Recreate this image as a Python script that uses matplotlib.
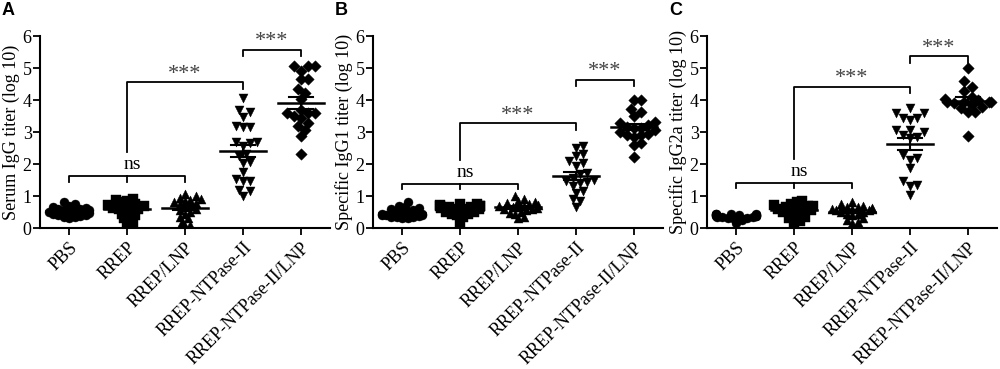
import numpy as np
import matplotlib
matplotlib.use('Agg')
import matplotlib.pyplot as plt

plt.rcParams['font.family'] = ['Liberation Serif', 'DejaVu Serif']

groups = ['PBS', 'RREP', 'RREP/LNP', 'RREP-NTPase-II', 'RREP-NTPase-II/LNP']
markers = ['o', 's', '^', 'v', 'D']

# panel A: serum IgG
pbs_a = [0.30, 0.35, 0.38, 0.42, 0.45, 0.48, 0.50, 0.52, 0.55, 0.58, 0.60, 0.62, 0.65, 0.70, 0.75, 0.80, 0.40, 0.55, 0.47, 0.33]
rrep_a = [0.15, 0.20, 0.30, 0.35, 0.45, 0.50, 0.55, 0.60, 0.62, 0.65, 0.70, 0.75, 0.80, 0.85, 0.88, 0.90, 0.40, 0.58, 0.68, 0.72]
lnp_a = [0.05, 0.10, 0.20, 0.30, 0.35, 0.45, 0.55, 0.60, 0.70, 0.75, 0.80, 0.85, 0.90, 0.95, 1.00, 1.05, 0.65, 0.50, 0.88, 0.78]
nt_a = [4.07, 3.63, 3.48, 3.68, 3.19, 3.16, 3.17, 2.70, 2.65, 2.69, 2.56, 2.25, 2.30, 2.04, 2.07, 1.75, 1.52, 1.47, 1.47, 1.16, 1.19, 1.00]
ntl_a = [5.06, 5.06, 5.06, 4.90, 4.65, 4.65, 4.36, 4.23, 4.02, 3.60, 3.60, 3.60, 3.29, 3.43, 3.19, 3.08, 2.88, 2.30, 3.70, 3.50]

# panel B: IgG1
pbs_b = [0.30, 0.32, 0.35, 0.38, 0.40, 0.42, 0.45, 0.48, 0.50, 0.52, 0.55, 0.60, 0.65, 0.70, 0.80, 0.35, 0.45, 0.40, 0.62, 0.33]
rrep_b = [0.18, 0.35, 0.40, 0.45, 0.50, 0.55, 0.60, 0.62, 0.65, 0.68, 0.70, 0.72, 0.75, 0.75, 0.60, 0.50, 0.58, 0.66, 0.45, 0.70]
lnp_b = [0.30, 0.35, 0.45, 0.50, 0.55, 0.60, 0.62, 0.65, 0.68, 0.70, 0.75, 0.80, 0.85, 0.90, 1.00, 0.58, 0.72, 0.66, 0.48, 0.78]
nt_b = [2.56, 2.51, 2.30, 2.25, 2.11, 2.04, 1.94, 1.73, 1.68, 1.57, 1.47, 1.16, 1.11, 0.90, 0.85, 0.65, 1.50, 1.45, 1.40, 1.30]
ntl_b = [3.99, 3.99, 3.63, 3.71, 3.51, 3.29, 3.32, 3.22, 3.17, 3.14, 3.07, 3.12, 2.91, 3.01, 2.86, 2.60, 2.65, 2.21, 2.90, 2.95]

# panel C: IgG2a
pbs_c = [0.15, 0.25, 0.30, 0.32, 0.35, 0.38, 0.40, 0.42, 0.45, 0.45, 0.40, 0.38, 0.35, 0.42, 0.44, 0.30, 0.36, 0.40, 0.43, 0.39]
rrep_c = [0.20, 0.22, 0.30, 0.35, 0.40, 0.50, 0.55, 0.60, 0.65, 0.70, 0.72, 0.75, 0.80, 0.85, 0.60, 0.50, 0.45, 0.65, 0.70, 0.55]
lnp_c = [0.15, 0.20, 0.25, 0.30, 0.40, 0.45, 0.50, 0.55, 0.60, 0.62, 0.65, 0.70, 0.75, 0.80, 0.55, 0.60, 0.50, 0.65, 0.58, 0.45]
nt_c = [3.74, 3.59, 3.59, 3.45, 3.43, 3.38, 3.07, 3.07, 2.81, 2.86, 2.29, 2.18, 2.13, 1.87, 1.46, 1.35, 1.33, 1.04, 2.90, 3.00]
ntl_c = [5.02, 4.60, 4.42, 4.28, 4.10, 3.95, 3.95, 3.90, 3.95, 3.95, 3.74, 3.64, 3.64, 2.88, 4.05, 3.85, 3.80, 4.00]

ylabels = ['Serum IgG titer (log 10)', 'Specific IgG1 titer (log 10)', 'Specific IgG2a titer (log 10)']
letters = ['A', 'B', 'C']
# bracket heights: ns line, first *** line, second *** line
brackets = [
    (1.63, 4.56, 5.58),
    (1.39, 3.27, 4.64),
    (1.42, 4.42, 5.37),
]
panels = [
    [pbs_a, rrep_a, lnp_a, nt_a, ntl_a],
    [pbs_b, rrep_b, lnp_b, nt_b, ntl_b],
    [pbs_c, rrep_c, lnp_c, nt_c, ntl_c],
]
lefts = [0.040, 0.373, 0.707]


def swarm(vals, ppx, ppy, d):
    '''
    simple beeswarm offsets (in data units) so markers spread sideways
    '''
    vals = np.asarray(vals, dtype=float)
    offs = np.zeros(len(vals))
    placed = []
    step = d / 2.0
    for i in np.argsort(vals):
        y = vals[i] * ppy
        for k in range(0, 40):
            for sgn in ([0] if k == 0 else [1, -1]):
                x = sgn * k * step
                if all((x - px) ** 2 + (y - py) ** 2 >= d ** 2 for px, py in placed):
                    break
            else:
                continue
            break
        placed.append((x, y))
        offs[i] = x / ppx
    return offs


fig = plt.figure(figsize=(10, 3.69), dpi=100)

for p in range(3):
    ax = fig.add_axes([lefts[p], 0.382, 0.29, 0.52])
    data = panels[p]
    for g, vals in enumerate(data):
        low = g < 3
        offs = swarm(vals, 58.0, 32.0, 5.5 if low else 7.0)
        offs = np.clip(offs, -0.34, 0.34) if low else np.clip(offs, -0.4, 0.4)
        ax.scatter(g + offs, vals, marker=markers[g], s=42 if markers[g] != 'D' else 34,
                   color='black', edgecolors='black', linewidths=0.3, zorder=3)
        m = np.mean(vals)
        sem = np.std(vals, ddof=1) / np.sqrt(len(vals))
        ax.plot([g - 0.4, g + 0.4], [m, m], color='black', lw=1.8, zorder=4)
        ax.plot([g - 0.2, g + 0.2], [m + sem, m + sem], color='black', lw=1.5, zorder=4)
        ax.plot([g - 0.2, g + 0.2], [m - sem, m - sem], color='black', lw=1.5, zorder=4)
        ax.plot([g, g], [m - sem, m + sem], color='black', lw=1.5, zorder=4)

    ns_y, s1_y, s2_y = brackets[p]
    tk = 0.18
    lw = 1.3
    # ns bracket
    ax.plot([0, 0, 2, 2], [ns_y - tk, ns_y, ns_y, ns_y - tk], color='black', lw=lw)
    ax.plot([1, 1], [ns_y, ns_y - tk], color='black', lw=lw)
    ax.text(1.1, ns_y + 0.08, 'ns', ha='center', va='bottom', fontsize=14)
    # *** RREP vs RREP-NTPase-II
    ax.plot([1, 1, 3, 3], [ns_y + 0.75, s1_y, s1_y, s1_y - 0.2], color='black', lw=lw)
    ax.text(2.0, s1_y - 0.05, '***', ha='center', va='bottom', fontsize=16, color='#444444')
    # *** NTPase-II vs NTPase-II/LNP
    ax.plot([3, 3, 4, 4], [s2_y - 0.2, s2_y, s2_y, s2_y - 0.2], color='black', lw=lw)
    ax.text(3.5, s2_y - 0.05, '***', ha='center', va='bottom', fontsize=16, color='#444444')

    ax.set_xlim(-0.5, 4.5)
    ax.set_ylim(0, 6)
    ax.set_yticks(range(0, 7))
    ax.set_xticks(range(5))
    ax.set_xticklabels(groups, rotation=45, ha='right', rotation_mode='anchor', fontsize=13)
    ax.tick_params(axis='y', labelsize=13, length=5, width=1.3, pad=1)
    ax.tick_params(axis='x', length=5, width=1.3, pad=3)
    ax.spines['top'].set_visible(False)
    ax.spines['right'].set_visible(False)
    ax.spines['left'].set_linewidth(1.5)
    ax.spines['bottom'].set_linewidth(1.5)
    ax.set_ylabel(ylabels[p], fontsize=13, labelpad=2)
    fig.text(lefts[p] - 0.038, 0.995, letters[p], fontsize=13, fontweight='bold',
             family='Liberation Sans', ha='left', va='top')

fig.savefig('out.png', dpi=100)
